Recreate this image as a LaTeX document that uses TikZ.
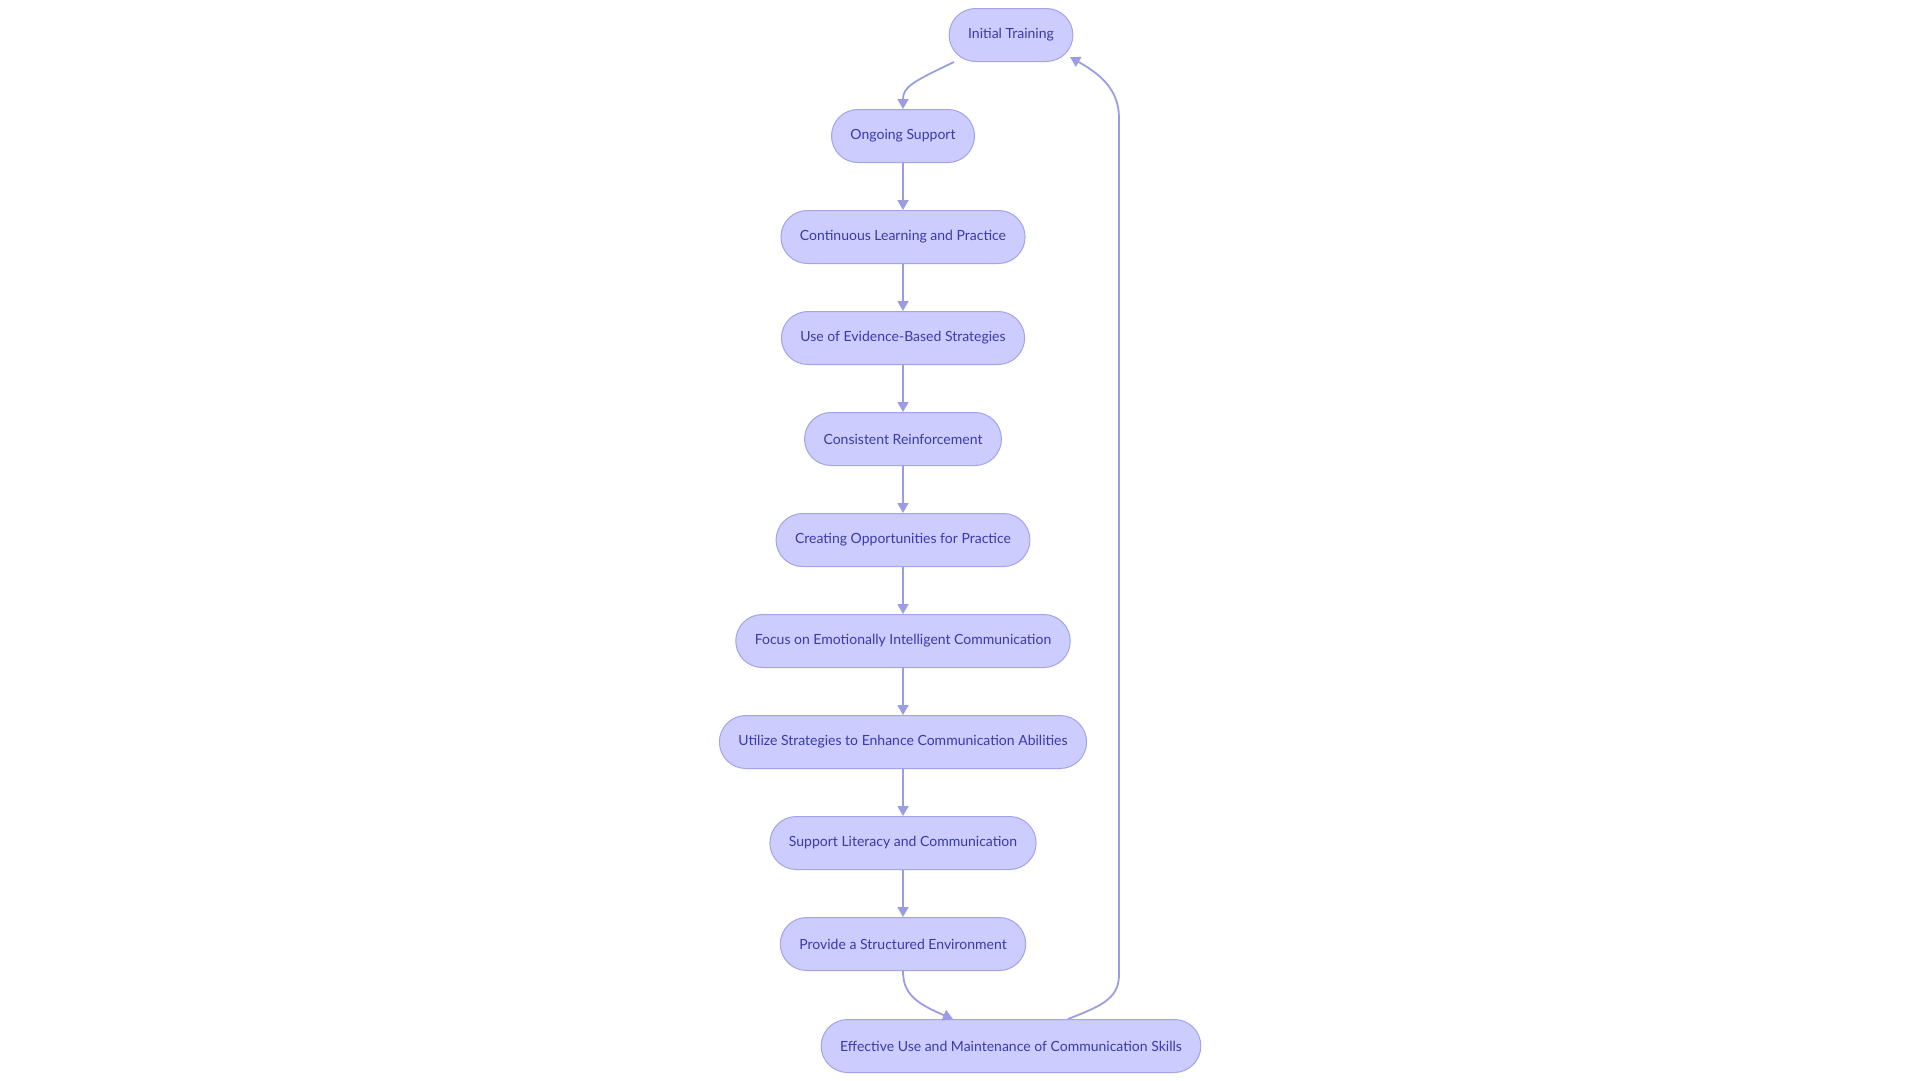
\documentclass[tikz,border=0pt]{standalone}
\usepackage{fontspec}
\setmainfont{Lato}
\usetikzlibrary{arrows.meta,calc}
\definecolor{nodefill}{HTML}{CCCCFF}
\definecolor{nodedraw}{HTML}{A3A3E8}
\definecolor{edgecol}{HTML}{9C9CE6}
\definecolor{txtcol}{HTML}{3A3AAA}
\begin{document}
\begin{tikzpicture}[x=1pt,y=-1pt,
  box/.style={draw=nodedraw,fill=nodefill,line width=1pt,rounded corners=26.5pt,
    minimum height=53pt,inner xsep=19pt,text=txtcol,font=\fontsize{14}{16}\selectfont},
  link/.style={draw=edgecol,line width=1.8pt,-{Triangle[length=10pt,width=11pt]}}]
\useasboundingbox (0,0) rectangle (1920,1080);
\node[box] (it) at (1011,35) {Initial Training};
\node[box] (os) at (903,136) {Ongoing Support};
\node[box] (cl) at (903,237) {Continuous Learning and Practice};
\node[box] (ue) at (903,338) {Use of Evidence-Based Strategies};
\node[box] (cr) at (903,439) {Consistent Reinforcement};
\node[box] (co) at (903,540) {Creating Opportunities for Practice};
\node[box] (fe) at (903,641) {Focus on Emotionally Intelligent Communication};
\node[box] (us) at (903,742) {Utilize Strategies to Enhance Communication Abilities};
\node[box] (sl) at (903,843) {Support Literacy and Communication};
\node[box] (ps) at (903,944) {Provide a Structured Environment};
\node[box] (ef) at (1011,1046) {Effective Use and Maintenance of Communication Skills};
\draw[link] ([xshift=-57pt]it.south) .. controls +(-42,20) and +(0,-22) .. (os.north);
\draw[link] (os) -- (cl);
\draw[link] (cl) -- (ue);
\draw[link] (ue) -- (cr);
\draw[link] (cr) -- (co);
\draw[link] (co) -- (fe);
\draw[link] (fe) -- (us);
\draw[link] (us) -- (sl);
\draw[link] (sl) -- (ps);
\draw[link] (ps.south) .. controls +(0,22) and +(-38,-16) .. ([xshift=-58pt]ef.north);
\coordinate (lb) at (1119,975);
\coordinate (lt) at (1119,118);
\draw[link] ([xshift=57pt]ef.north) .. controls +(30,-12) and +(0,25) .. (lb) -- (lt)
  .. controls +(0,-30) and +(28,16) .. ([xshift=59pt,yshift=5pt]it.south);
\end{tikzpicture}
\end{document}
